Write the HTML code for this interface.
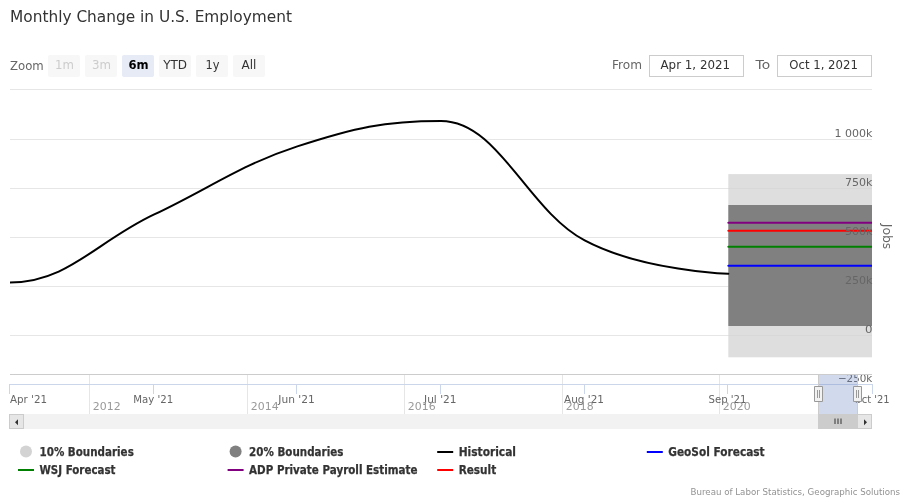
<!DOCTYPE html>
<html><head><meta charset="utf-8"><title>Monthly Change in U.S. Employment</title>
<style>
html,body{margin:0;padding:0;background:#fff;}
body{width:910px;height:500px;overflow:hidden;}
svg{display:block;font-family:"DejaVu Sans", "Liberation Sans", sans-serif;}
text{white-space:pre;}
</style></head><body>
<svg width="910" height="500" viewBox="0 0 910 500">
<defs><clipPath id="plot"><rect x="10" y="89" width="862" height="296"/></clipPath></defs>
<rect x="0" y="0" width="910" height="500" fill="#ffffff"/>
<path d="M 10 89.5 L 872 89.5" stroke="#e6e6e6" stroke-width="1" fill="none"/>
<path d="M 10 139.5 L 872 139.5" stroke="#e6e6e6" stroke-width="1" fill="none"/>
<path d="M 10 188.5 L 872 188.5" stroke="#e6e6e6" stroke-width="1" fill="none"/>
<path d="M 10 237.5 L 872 237.5" stroke="#e6e6e6" stroke-width="1" fill="none"/>
<path d="M 10 286.5 L 872 286.5" stroke="#e6e6e6" stroke-width="1" fill="none"/>
<path d="M 10 335.5 L 872 335.5" stroke="#e6e6e6" stroke-width="1" fill="none"/>
<path d="M 89.5 374.5 L 89.5 414" stroke="#e6e6e6" stroke-width="1"/>
<path d="M 247.5 374.5 L 247.5 414" stroke="#e6e6e6" stroke-width="1"/>
<path d="M 404.5 374.5 L 404.5 414" stroke="#e6e6e6" stroke-width="1"/>
<path d="M 562.5 374.5 L 562.5 414" stroke="#e6e6e6" stroke-width="1"/>
<path d="M 719.5 374.5 L 719.5 414" stroke="#e6e6e6" stroke-width="1"/>
<path d="M 9 384.5 L 873 384.5" stroke="#ccd6eb" stroke-width="1"/>
<path d="M 9.5 384.5 L 9.5 394.0" stroke="#ccd6eb" stroke-width="1"/>
<path d="M 153.5 384.5 L 153.5 394.0" stroke="#ccd6eb" stroke-width="1"/>
<path d="M 296.5 384.5 L 296.5 394.0" stroke="#ccd6eb" stroke-width="1"/>
<path d="M 440.5 384.5 L 440.5 394.0" stroke="#ccd6eb" stroke-width="1"/>
<path d="M 584.5 384.5 L 584.5 394.0" stroke="#ccd6eb" stroke-width="1"/>
<path d="M 727.5 384.5 L 727.5 394.0" stroke="#ccd6eb" stroke-width="1"/>
<path d="M 872.5 384.5 L 872.5 394.0" stroke="#ccd6eb" stroke-width="1"/>
<g clip-path="url(#plot)">
<rect x="728.33" y="174.1" width="143.67" height="183.2" fill="#d3d3d3" fill-opacity="0.75"/>
<rect x="728.33" y="205" width="143.67" height="121" fill="#808080"/>
<path d="M -133.67 181.13 C -133.67 181.13 -47.47 282.47 10.00 282.47 C 67.47 282.47 96.20 241.93 153.67 214.71 C 211.13 187.49 239.87 165.10 297.33 146.36 C 354.80 127.63 383.53 121.03 441.00 121.03 C 498.47 121.03 527.20 209.88 584.67 240.44 C 642.13 271.00 728.33 273.83 728.33 273.83" stroke="#000000" stroke-width="2" fill="none" stroke-linejoin="round" stroke-linecap="round"/>
<path d="M 728.33 265.70 L 872 265.70" stroke="#0000ff" stroke-width="2" fill="none" stroke-linecap="round"/>
<path d="M 728.33 246.80 L 872 246.80" stroke="#008000" stroke-width="2" fill="none" stroke-linecap="round"/>
<path d="M 728.33 222.85 L 872 222.85" stroke="#800080" stroke-width="2" fill="none" stroke-linecap="round"/>
<path d="M 728.33 230.80 L 872 230.80" stroke="#ff0000" stroke-width="2" fill="none" stroke-linecap="round"/>
</g>
<text x="10" y="22" font-size="16" fill="#333333" textLength="282" lengthAdjust="spacingAndGlyphs">Monthly Change in U.S. Employment</text>
<text x="872.4" y="136.9" font-size="11" fill="#666666" text-anchor="end" textLength="38" lengthAdjust="spacingAndGlyphs">1 000k</text>
<text x="872.4" y="185.9" font-size="11" fill="#666666" text-anchor="end" textLength="27.5" lengthAdjust="spacingAndGlyphs">750k</text>
<text x="872.4" y="234.9" font-size="11" fill="#666666" text-anchor="end" textLength="27.5" lengthAdjust="spacingAndGlyphs">500k</text>
<text x="872.4" y="283.9" font-size="11" fill="#666666" text-anchor="end" textLength="27.5" lengthAdjust="spacingAndGlyphs">250k</text>
<text x="872.4" y="332.9" font-size="11" fill="#666666" text-anchor="end" textLength="7.5" lengthAdjust="spacingAndGlyphs">0</text>
<text x="872.4" y="381.6" font-size="11" fill="#666666" text-anchor="end" textLength="34.5" lengthAdjust="spacingAndGlyphs">−250k</text>
<text x="0" y="0" font-size="12" fill="#666666" text-anchor="middle" transform="translate(883.4,236.5) rotate(90)" textLength="25.5" lengthAdjust="spacingAndGlyphs">Jobs</text>
<text x="10" y="402.7" font-size="11" fill="#666666" textLength="37" lengthAdjust="spacingAndGlyphs">Apr '21</text>
<text x="153.2" y="402.7" font-size="11" fill="#666666" text-anchor="middle" textLength="40" lengthAdjust="spacingAndGlyphs">May '21</text>
<text x="296.5" y="402.7" font-size="11" fill="#666666" text-anchor="middle" textLength="36.5" lengthAdjust="spacingAndGlyphs">Jun '21</text>
<text x="440.3" y="402.7" font-size="11" fill="#666666" text-anchor="middle" textLength="32.5" lengthAdjust="spacingAndGlyphs">Jul '21</text>
<text x="584" y="402.7" font-size="11" fill="#666666" text-anchor="middle" textLength="40" lengthAdjust="spacingAndGlyphs">Aug '21</text>
<text x="727.5" y="402.7" font-size="11" fill="#666666" text-anchor="middle" textLength="38" lengthAdjust="spacingAndGlyphs">Sep '21</text>
<text x="871.8" y="402.7" font-size="11" fill="#666666" text-anchor="middle" textLength="35.8" lengthAdjust="spacingAndGlyphs">Oct '21</text>
<text x="92.8" y="409.7" font-size="11" fill="#999999" textLength="27.8" lengthAdjust="spacingAndGlyphs">2012</text>
<text x="250.8" y="409.7" font-size="11" fill="#999999" textLength="27.8" lengthAdjust="spacingAndGlyphs">2014</text>
<text x="407.8" y="409.7" font-size="11" fill="#999999" textLength="27.8" lengthAdjust="spacingAndGlyphs">2016</text>
<text x="565.8" y="409.7" font-size="11" fill="#999999" textLength="27.8" lengthAdjust="spacingAndGlyphs">2018</text>
<text x="722.8" y="409.7" font-size="11" fill="#999999" textLength="27.8" lengthAdjust="spacingAndGlyphs">2020</text>
<rect x="818.5" y="374.0" width="39" height="40.0" fill="#6685c2" fill-opacity="0.3"/>
<path d="M 10 374.5 L 872 374.5" stroke="#cccccc" stroke-width="1"/>
<path d="M 818.5 374.5 L 818.5 414 M 857.5 374.5 L 857.5 414" stroke="#cccccc" stroke-width="1" fill="none"/>
<rect x="10" y="414" width="862" height="15" fill="#f2f2f2"/>
<rect x="818" y="414" width="40" height="15" fill="#cccccc"/>
<path d="M 835 418.5 L 835 424 M 838 418.5 L 838 424 M 841 418.5 L 841 424" stroke="#333333" stroke-width="1"/>
<rect x="9.5" y="414.5" width="14" height="14" fill="#e6e6e6" stroke="#cccccc" stroke-width="1"/>
<rect x="857.5" y="414.5" width="14" height="14" fill="#e6e6e6" stroke="#cccccc" stroke-width="1"/>
<path d="M 18 419.2 L 18 425.2 L 15 422.2 Z" fill="#333333"/>
<path d="M 864 419.2 L 864 425.2 L 867 422.2 Z" fill="#333333"/>
<g transform="translate(819,386)"><path d="M -4.5 0.5 L 3.5 0.5 L 3.5 15.5 L -4.5 15.5 Z" fill="#f2f2f2" stroke="#999999" stroke-width="1"/><path d="M -1.5 4 L -1.5 12 M 0.5 4 L 0.5 12" stroke="#999999" stroke-width="1" fill="none"/></g>
<g transform="translate(858,386)"><path d="M -4.5 0.5 L 3.5 0.5 L 3.5 15.5 L -4.5 15.5 Z" fill="#f2f2f2" stroke="#999999" stroke-width="1"/><path d="M -1.5 4 L -1.5 12 M 0.5 4 L 0.5 12" stroke="#999999" stroke-width="1" fill="none"/></g>
<text x="10" y="69.5" font-size="12" fill="#666666" textLength="33.7" lengthAdjust="spacingAndGlyphs">Zoom</text>
<rect x="48" y="55" width="32" height="22" rx="2" ry="2" fill="#f7f7f7"/>
<text x="64.4" y="69" font-size="12" fill="#cccccc" text-anchor="middle" textLength="18.9" lengthAdjust="spacingAndGlyphs">1m</text>
<rect x="85" y="55" width="32" height="22" rx="2" ry="2" fill="#f7f7f7"/>
<text x="101.4" y="69" font-size="12" fill="#cccccc" text-anchor="middle" textLength="19" lengthAdjust="spacingAndGlyphs">3m</text>
<rect x="122" y="55" width="32" height="22" rx="2" ry="2" fill="#e6ebf5"/>
<text x="138.5" y="69" font-size="12" fill="#000000" text-anchor="middle" font-weight="bold" textLength="20.1" lengthAdjust="spacingAndGlyphs">6m</text>
<rect x="159" y="55" width="32" height="22" rx="2" ry="2" fill="#f7f7f7"/>
<text x="175.1" y="69" font-size="12" fill="#333333" text-anchor="middle" textLength="23.9" lengthAdjust="spacingAndGlyphs">YTD</text>
<rect x="196" y="55" width="32" height="22" rx="2" ry="2" fill="#f7f7f7"/>
<text x="212.4" y="69" font-size="12" fill="#333333" text-anchor="middle" textLength="14.0" lengthAdjust="spacingAndGlyphs">1y</text>
<rect x="233" y="55" width="32" height="22" rx="2" ry="2" fill="#f7f7f7"/>
<text x="249.0" y="69" font-size="12" fill="#333333" text-anchor="middle" textLength="14.9" lengthAdjust="spacingAndGlyphs">All</text>
<text x="612" y="69" font-size="12" fill="#666666" textLength="30" lengthAdjust="spacingAndGlyphs">From</text>
<rect x="649.5" y="55.5" width="94" height="21" fill="none" stroke="#cccccc" stroke-width="1"/>
<text x="695.3" y="69" font-size="12" fill="#333333" text-anchor="middle" textLength="69.6" lengthAdjust="spacingAndGlyphs">Apr 1, 2021</text>
<text x="755.6" y="69" font-size="12" fill="#666666" textLength="14.5" lengthAdjust="spacingAndGlyphs">To</text>
<rect x="777.5" y="55.5" width="94" height="21" fill="none" stroke="#cccccc" stroke-width="1"/>
<text x="823.6" y="69" font-size="12" fill="#333333" text-anchor="middle" textLength="68.6" lengthAdjust="spacingAndGlyphs">Oct 1, 2021</text>
<circle cx="26.0" cy="451.5" r="6" fill="#d3d3d3"/>
<text x="39.5" y="456" font-size="12" fill="#333333" font-weight="bold" textLength="94.3" lengthAdjust="spacingAndGlyphs" stroke="#333333" stroke-width="0.25">10% Boundaries</text>
<circle cx="235.6" cy="451.5" r="6" fill="#808080"/>
<text x="249.1" y="456" font-size="12" fill="#333333" font-weight="bold" textLength="94.3" lengthAdjust="spacingAndGlyphs" stroke="#333333" stroke-width="0.25">20% Boundaries</text>
<path d="M 437.2 452 L 453.2 452" stroke="#000000" stroke-width="2"/>
<text x="458.7" y="456" font-size="12" fill="#333333" font-weight="bold" textLength="57.3" lengthAdjust="spacingAndGlyphs" stroke="#333333" stroke-width="0.25">Historical</text>
<path d="M 646.8 452 L 662.8 452" stroke="#0000ff" stroke-width="2"/>
<text x="668.3" y="456" font-size="12" fill="#333333" font-weight="bold" textLength="96.3" lengthAdjust="spacingAndGlyphs" stroke="#333333" stroke-width="0.25">GeoSol Forecast</text>
<path d="M 18.0 470 L 34.0 470" stroke="#008000" stroke-width="2"/>
<text x="39.5" y="474" font-size="12" fill="#333333" font-weight="bold" textLength="76" lengthAdjust="spacingAndGlyphs" stroke="#333333" stroke-width="0.25">WSJ Forecast</text>
<path d="M 227.6 470 L 243.6 470" stroke="#800080" stroke-width="2"/>
<text x="249.1" y="474" font-size="12" fill="#333333" font-weight="bold" textLength="168.4" lengthAdjust="spacingAndGlyphs" stroke="#333333" stroke-width="0.25">ADP Private Payroll Estimate</text>
<path d="M 437.2 470 L 453.2 470" stroke="#ff0000" stroke-width="2"/>
<text x="458.7" y="474" font-size="12" fill="#333333" font-weight="bold" textLength="37.5" lengthAdjust="spacingAndGlyphs" stroke="#333333" stroke-width="0.25">Result</text>
<text x="900" y="495" font-size="9" fill="#929292" text-anchor="end" textLength="209.5" lengthAdjust="spacingAndGlyphs">Bureau of Labor Statistics, Geographic Solutions</text>
</svg>
</body></html>
